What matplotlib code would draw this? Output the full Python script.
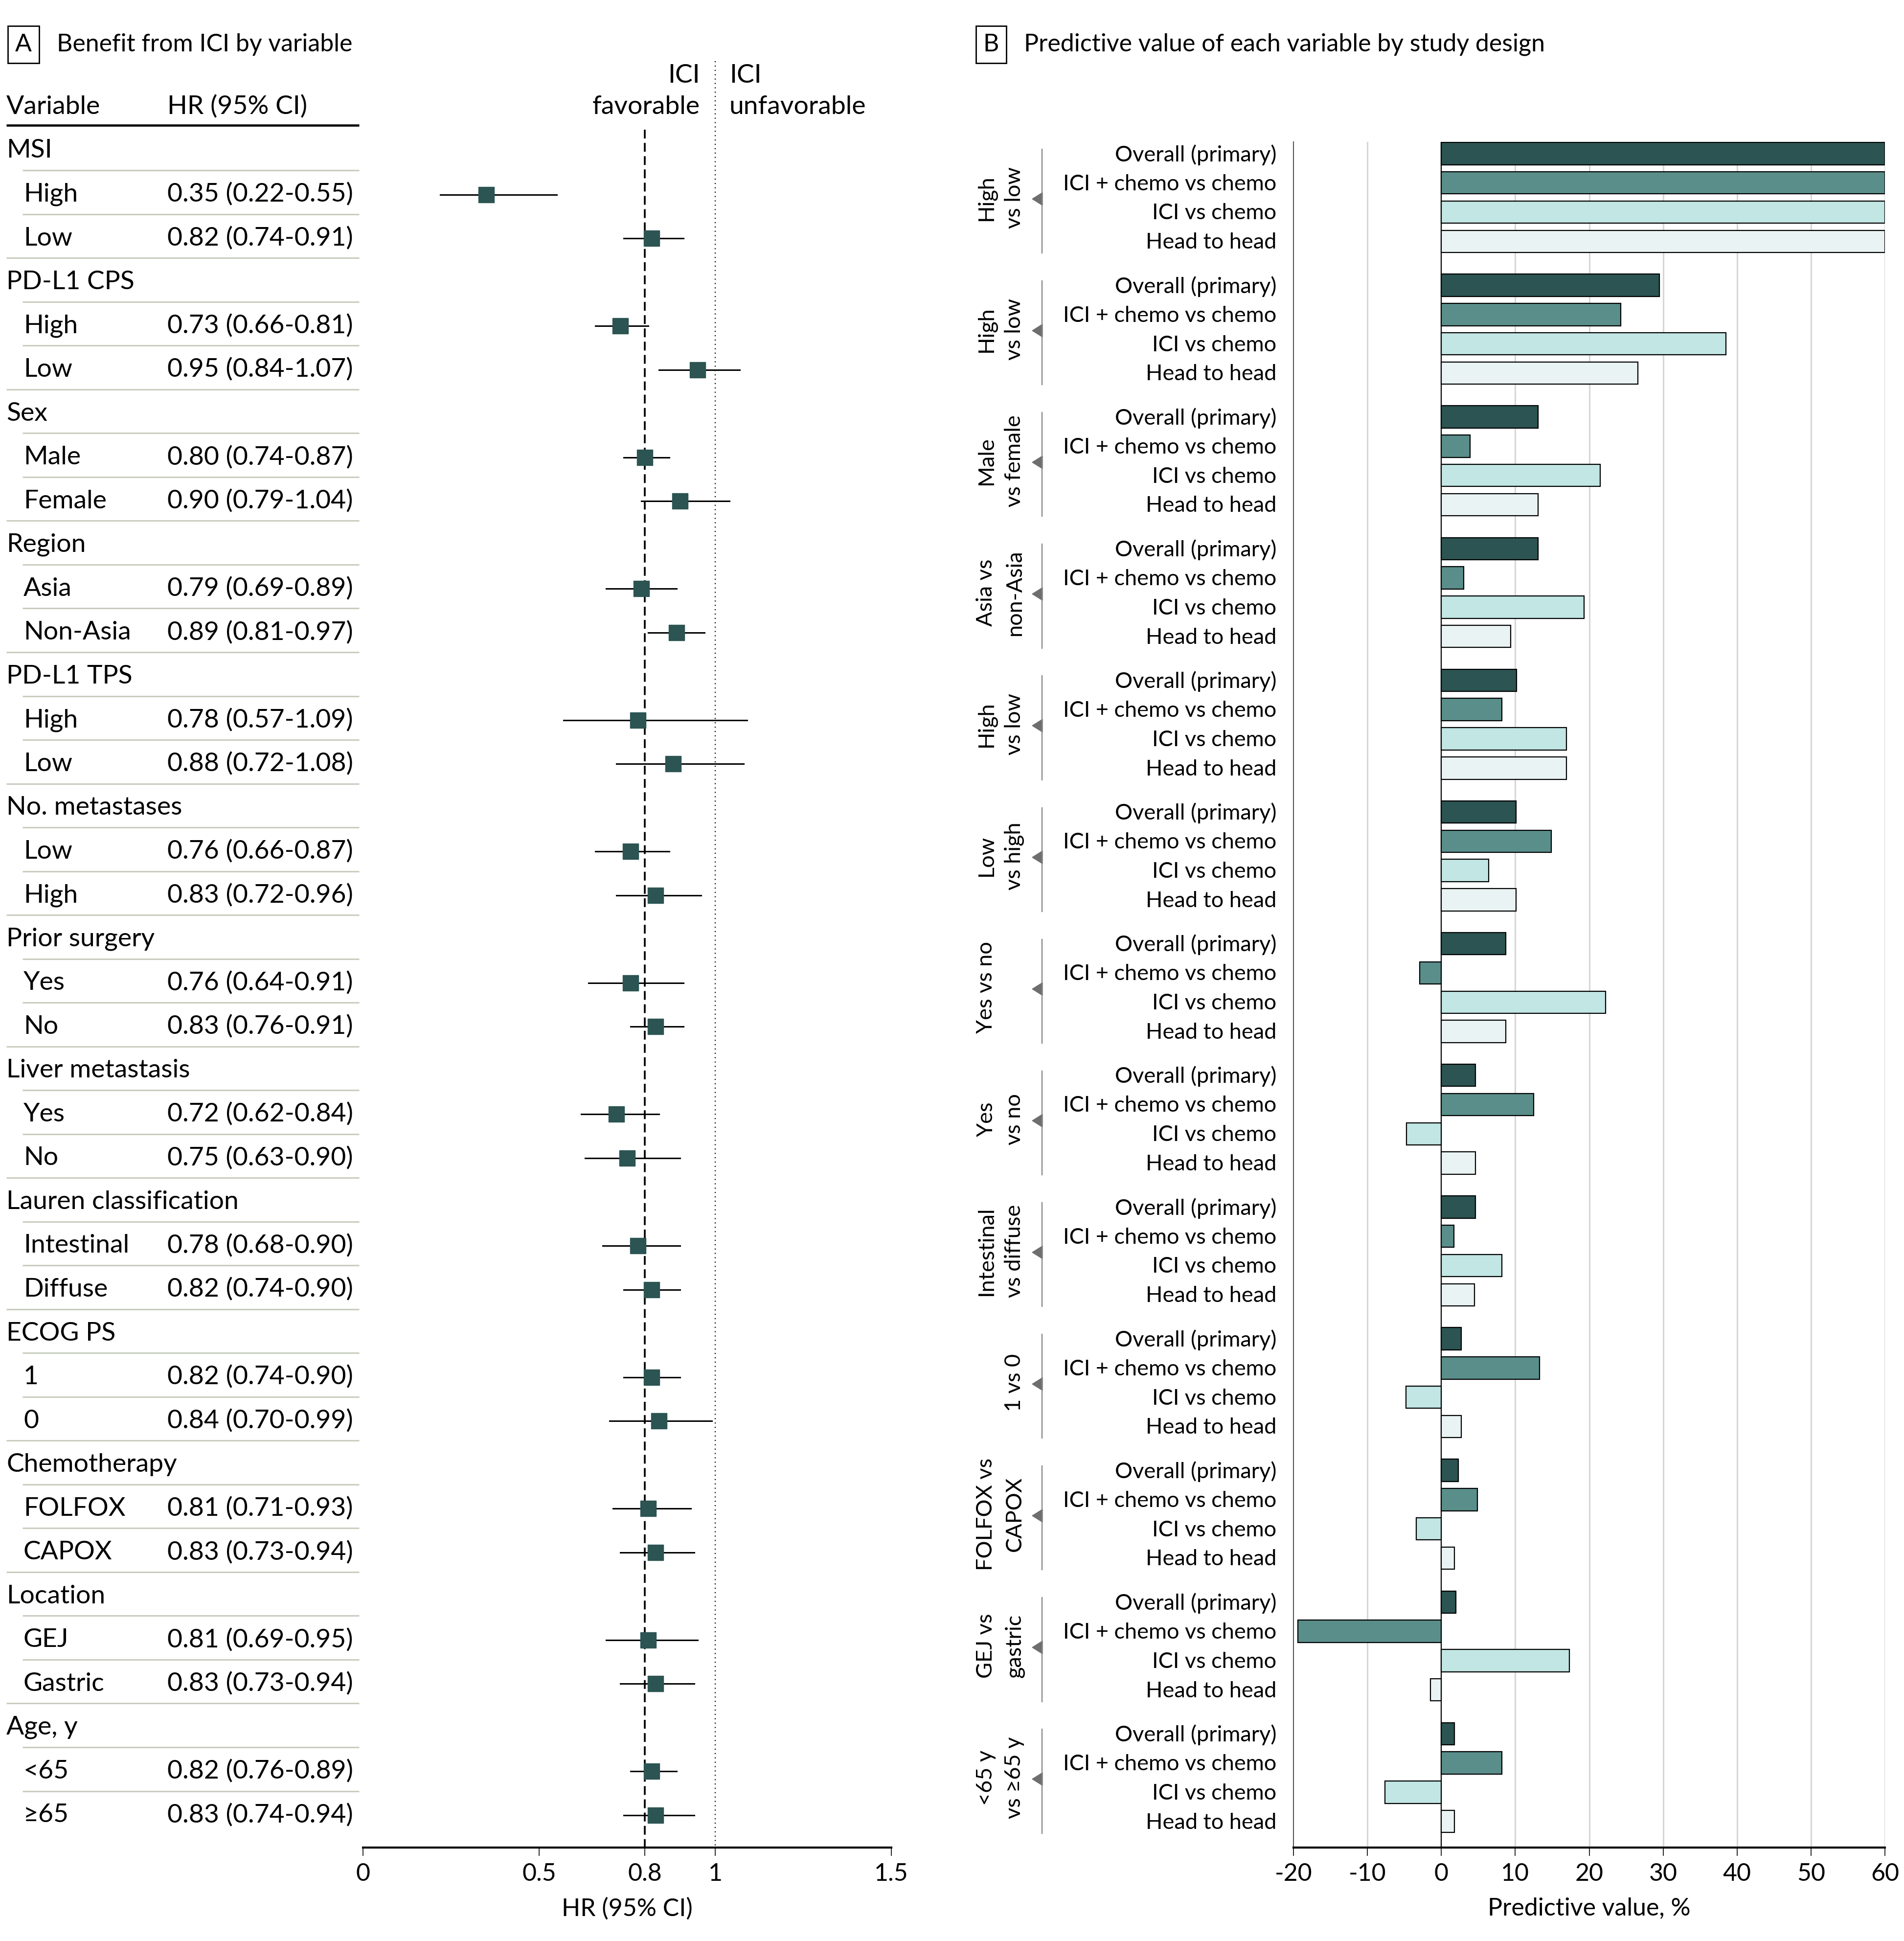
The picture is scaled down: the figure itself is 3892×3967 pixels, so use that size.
import matplotlib
matplotlib.use("Agg")
import matplotlib.pyplot as plt
from matplotlib.transforms import blended_transform_factory
from matplotlib.patches import Polygon

plt.rcParams['font.family'] = ['Lato', 'DejaVu Sans']
plt.rcParams['axes.unicode_minus'] = False

# ---- data: panel A (forest plot) ----
groups_a = ["MSI", "PD-L1 CPS", "Sex", "Region", "PD-L1 TPS", "No. metastases",
            "Prior surgery", "Liver metastasis", "Lauren classification", "ECOG PS",
            "Chemotherapy", "Location", "Age, y"]
sub_labels = [("High", "Low"), ("High", "Low"), ("Male", "Female"), ("Asia", "Non-Asia"),
              ("High", "Low"), ("Low", "High"), ("Yes", "No"), ("Yes", "No"),
              ("Intestinal", "Diffuse"), ("1", "0"), ("FOLFOX", "CAPOX"),
              ("GEJ", "Gastric"), ("<65", "≥65")]
hr = [0.35, 0.82, 0.73, 0.95, 0.80, 0.90, 0.79, 0.89, 0.78, 0.88, 0.76, 0.83, 0.76, 0.83,
      0.72, 0.75, 0.78, 0.82, 0.82, 0.84, 0.81, 0.83, 0.81, 0.83, 0.82, 0.83]
ci_lo = [0.22, 0.74, 0.66, 0.84, 0.74, 0.79, 0.69, 0.81, 0.57, 0.72, 0.66, 0.72, 0.64, 0.76,
         0.62, 0.63, 0.68, 0.74, 0.74, 0.70, 0.71, 0.73, 0.69, 0.73, 0.76, 0.74]
ci_hi = [0.55, 0.91, 0.81, 1.07, 0.87, 1.04, 0.89, 0.97, 1.09, 1.08, 0.87, 0.96, 0.91, 0.91,
         0.84, 0.90, 0.90, 0.90, 0.90, 0.99, 0.93, 0.94, 0.95, 0.94, 0.89, 0.94]

# ---- data: panel B (predictive value, %) ----
group_b = [("High", "vs low"), ("High", "vs low"), ("Male", "vs female"), ("Asia vs", "non-Asia"),
           ("High", "vs low"), ("Low", "vs high"), ("Yes vs no", ""), ("Yes", "vs no"),
           ("Intestinal", "vs diffuse"), ("", "1 vs 0"), ("FOLFOX vs", "CAPOX"),
           ("GEJ vs", "gastric"), ("<65 y", "vs ≥65 y")]
designs = ["Overall (primary)", "ICI + chemo vs chemo", "ICI vs chemo", "Head to head"]
overall = [60, 29.5, 13.1, 13.1, 10.2, 10.1, 8.7, 4.6, 4.6, 2.7, 2.3, 2.0, 1.8]
ici_chemo = [60, 24.3, 3.9, 3.0, 8.2, 14.9, -2.9, 12.5, 1.7, 13.3, 4.9, -19.4, 8.2]
ici_vs_chemo = [60, 38.5, 21.5, 19.3, 16.9, 6.4, 22.2, -4.7, 8.2, -4.8, -3.4, 17.3, -7.6]
head_to_head = [60, 26.6, 13.1, 9.4, 16.9, 10.1, 8.7, 4.6, 4.5, 2.7, 1.8, -1.5, 1.8]
bar_colors = ["#2b5452", "#5a8e8b", "#c1e6e4", "#eaf3f3"]

W, H = 3892, 3967
fig = plt.figure(figsize=(W / 100, H / 100), dpi=100)


def fx(px):
    return px / W


def fy(py):
    return 1 - py / H


FS_A = 38.5
FS_T = 36
FS_B = 32.5
sep_color = "#c8cdbf"
teal = "#2b5452"
dy = 0.05  # small nudge so text sits on the row like the original

# ================= Panel A =================
ax = fig.add_axes([fx(742), fy(3776), fx(1822) - fx(742), (3776 - 120) / H])
ax.set_xlim(0, 1.5)
ax.set_ylim(38.79, -2.05)
for s in ["top", "right", "left"]:
    ax.spines[s].set_visible(False)
ax.spines["bottom"].set_linewidth(3)
ax.set_yticks([])
ax.set_xticks([0, 0.5, 0.8, 1, 1.5])
ax.set_xticklabels(["0", "0.5", "0.8", "1", "1.5"])
ax.tick_params(axis="x", direction="out", length=12, width=1.2, labelsize=FS_T, pad=10)
ax.set_xlabel("HR (95% CI)", fontsize=FS_T, labelpad=18)

tr = blended_transform_factory(fig.transFigure, ax.transData)

ax.text(fx(13), -1.0 + dy, "Variable", transform=tr, fontsize=FS_A, va="center", ha="left")
ax.text(fx(342), -1.0 + dy, "HR (95% CI)", transform=tr, fontsize=FS_A, va="center", ha="left")
ax.plot([fx(13), fx(734)], [-0.53, -0.53], transform=tr, color="black", lw=3.3,
        clip_on=False, solid_capstyle="butt")

ax.text(0.957, -1.71 + dy, "ICI", fontsize=FS_A, va="center", ha="right")
ax.text(0.957, -1.0 + dy, "favorable", fontsize=FS_A, va="center", ha="right")
ax.text(1.04, -1.71 + dy, "ICI", fontsize=FS_A, va="center", ha="left")
ax.text(1.04, -1.0 + dy, "unfavorable", fontsize=FS_A, va="center", ha="left")

ax.plot([1, 1], [-1.99, 38.79], color="black", lw=1.6, ls=(0, (1, 3)), clip_on=False)
ax.plot([0.8, 0.8], [-0.43, 38.79], color="black", lw=2.6, ls=(0, (5, 2.5)), clip_on=False)

n_rows = len(groups_a) * 3
k = 0
for g, name in enumerate(groups_a):
    r0 = g * 3
    ax.text(fx(13), r0 + dy, name, transform=tr, fontsize=FS_A, va="center", ha="left")
    for j in range(2):
        r = r0 + 1 + j
        ax.text(fx(48), r + dy, sub_labels[g][j], transform=tr, fontsize=FS_A,
                va="center", ha="left")
        ax.text(fx(342), r + dy, f"{hr[k]:.2f} ({ci_lo[k]:.2f}-{ci_hi[k]:.2f})", transform=tr,
                fontsize=FS_A, va="center", ha="left")
        ax.plot([ci_lo[k], ci_hi[k]], [r + dy, r + dy], color="black", lw=2.2, zorder=3)
        ax.plot(hr[k], r + dy, marker="s", ms=23, color=teal, mec=teal, zorder=4)
        k += 1
    # separators
    for j in range(3):
        r = r0 + j + 0.5
        if r > n_rows - 1:
            continue
        x_start = 13 if j == 2 else 46
        ax.plot([fx(x_start), fx(734)], [r, r], transform=tr, color=sep_color, lw=2.2,
                clip_on=False, solid_capstyle="butt")

# panel A title
fig.text(fx(48), fy(91), "A", fontsize=FS_T, ha="center", va="center",
         bbox=dict(boxstyle="square,pad=0.3", fc="white", ec="black", lw=2))
fig.text(fx(116), fy(91), "Benefit from ICI by variable", fontsize=FS_T, ha="left", va="center")

# ================= Panel B =================
axb = fig.add_axes([fx(2644), fy(3776), fx(3853) - fx(2644), (3776 - 290) / H])
axb.set_xlim(-20, 60)
n_g = len(group_b)
axb.set_ylim((n_g - 1) * 4.5 + 3 + 0.89, -0.4)
axb.spines["top"].set_visible(False)
axb.spines["right"].set_visible(False)
axb.spines["left"].set_color("#555555")
axb.spines["left"].set_linewidth(1.5)
axb.spines["bottom"].set_linewidth(3)
axb.set_yticks([])
axb.set_xticks(range(-20, 61, 10))
axb.tick_params(axis="x", direction="out", length=12, width=1.2, labelsize=FS_T, pad=10)
axb.set_xlabel("Predictive value, %", fontsize=FS_T, labelpad=18)
for v in range(-10, 61, 10):
    if v == 0:
        continue
    axb.axvline(v, color="#d6d6d6", lw=2.2, zorder=0)
axb.axvline(0, color="black", lw=1.6, zorder=1)

trb = blended_transform_factory(fig.transFigure, axb.transData)
series = [overall, ici_chemo, ici_vs_chemo, head_to_head]
for g in range(n_g):
    base = g * 4.5
    for j, vals in enumerate(series):
        y = base + j
        axb.barh(y, vals[g], height=0.76, color=bar_colors[j], edgecolor="black",
                 linewidth=1.6, zorder=2)
        axb.text(fx(2609), y + 0.04, designs[j], transform=trb, fontsize=FS_B,
                 ha="right", va="center")
    # bracket
    axb.plot([fx(2130), fx(2130)], [base - 0.15, base + 3.4], transform=trb, color="#808080",
             lw=1.6, clip_on=False)
    mid = base + 1.55
    tri = Polygon([[fx(2131), mid - 0.22], [fx(2110), mid], [fx(2131), mid + 0.22]],
                  closed=True, transform=trb, color="#6e6e6e", clip_on=False)
    axb.add_patch(tri)
    l1, l2 = group_b[g]
    axb.text(fx(2016), base + 1.5, l1, transform=trb, fontsize=FS_B, rotation=90,
             ha="center", va="center", rotation_mode="anchor")
    axb.text(fx(2074), base + 1.5, l2, transform=trb, fontsize=FS_B, rotation=90,
             ha="center", va="center", rotation_mode="anchor")

fig.text(fx(2026), fy(91), "B", fontsize=FS_T, ha="center", va="center",
         bbox=dict(boxstyle="square,pad=0.3", fc="white", ec="black", lw=2))
fig.text(fx(2093), fy(91), "Predictive value of each variable by study design", fontsize=FS_T,
         ha="left", va="center")

fig.savefig("out.png", dpi=100, facecolor="white")
